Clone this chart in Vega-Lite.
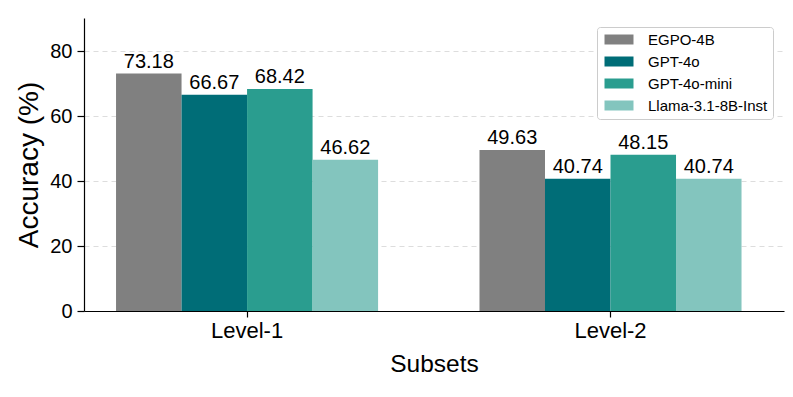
{
  "$schema": "https://vega.github.io/schema/vega-lite/v6.json",
  "width": 700,
  "height": 293,
  "autosize": {"type": "none"},
  "padding": {"left": 84, "top": 18, "right": 9, "bottom": 86},
  "background": "white",
  "config": {
    "font": "Liberation Sans",
    "view": {"stroke": null},
    "axis": {"labelColor": "black", "titleColor": "black", "domainColor": "black", "tickColor": "black", "titleFontWeight": "normal"}
  },
  "data": {
    "values": [
      {"subset": "Level-1", "model": "EGPO-4B", "acc": 73.18},
      {"subset": "Level-1", "model": "GPT-4o", "acc": 66.67},
      {"subset": "Level-1", "model": "GPT-4o-mini", "acc": 68.42},
      {"subset": "Level-1", "model": "Llama-3.1-8B-Inst", "acc": 46.62},
      {"subset": "Level-2", "model": "EGPO-4B", "acc": 49.63},
      {"subset": "Level-2", "model": "GPT-4o", "acc": 40.74},
      {"subset": "Level-2", "model": "GPT-4o-mini", "acc": 48.15},
      {"subset": "Level-2", "model": "Llama-3.1-8B-Inst", "acc": 40.74}
    ]
  },
  "encoding": {
    "x": {
      "field": "subset", "type": "nominal",
      "scale": {"paddingInner": 0.279, "paddingOuter": 0.1025, "align": 0.43},
      "axis": {"title": "Subsets", "labelAngle": 0, "labelFontSize": 22, "titleFontSize": 24.5, "tickSize": 6, "labelPadding": 3, "titlePadding": 11, "grid": false, "domainWidth": 1.2, "tickWidth": 1.2}
    },
    "xOffset": {"field": "model", "type": "nominal", "scale": {"paddingInner": 0, "paddingOuter": 0}, "sort": ["EGPO-4B", "GPT-4o", "GPT-4o-mini", "Llama-3.1-8B-Inst"]},
    "y": {
      "field": "acc", "type": "quantitative",
      "scale": {"domain": [0, 90.3], "nice": false},
      "axis": {"title": "Accuracy (%)", "values": [0, 20, 40, 60, 80], "labelFontSize": 20, "titleFontSize": 28, "tickSize": 7, "labelPadding": 5, "titlePadding": 6, "grid": true, "gridDash": [5, 4], "gridColor": "#dddddd", "domainWidth": 1.2, "tickWidth": 1.2}
    }
  },
  "layer": [
    {
      "mark": {"type": "bar"},
      "encoding": {
        "color": {
          "field": "model", "type": "nominal",
          "sort": ["EGPO-4B", "GPT-4o", "GPT-4o-mini", "Llama-3.1-8B-Inst"],
          "scale": {"domain": ["EGPO-4B", "GPT-4o", "GPT-4o-mini", "Llama-3.1-8B-Inst"], "range": ["#808080", "#006D77", "#2A9D8F", "#83C5BE"]},
          "legend": {
            "title": null,
            "orient": "none",
            "legendX": 513,
            "legendY": 9,
            "symbolType": "M-1,-1H4.8V1H-1Z",
            "symbolSize": 100,
            "symbolStrokeWidth": 0,
            "symbolOpacity": 1,
            "labelFontSize": 15,
            "labelColor": "black",
            "labelOffset": 31,
            "rowPadding": 6,
            "padding": 5,
            "fillColor": "white",
            "strokeColor": "#cccccc",
            "cornerRadius": 3
          }
        }
      }
    },
    {
      "mark": {"type": "text", "baseline": "alphabetic", "dy": -6, "fontSize": 20, "color": "black"},
      "encoding": {"text": {"field": "acc", "type": "quantitative", "format": ".2f"}}
    }
  ]
}
